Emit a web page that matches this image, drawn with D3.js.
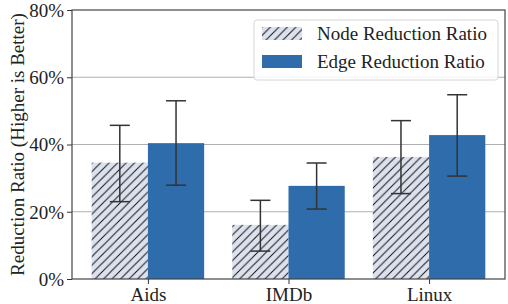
<!DOCTYPE html>
<html><head><meta charset="utf-8">
<script src="https://cdn.jsdelivr.net/npm/d3@7"></script>
<style>
@font-face { font-family: "ChartSerif"; src: local("Liberation Serif"), local("LiberationSerif"), local("LiberationSerif-Regular"); }
body{margin:0;background:#fff}
</style>
</head><body>
<svg id="c" width="508" height="304" font-family="Liberation Serif"></svg>
<script>
const categories = ["Aids", "IMDb", "Linux"];
const seriesNames = ["Node Reduction Ratio", "Edge Reduction Ratio"];
const nodeValues = [34.6, 16.1, 36.3];
const nodeErrLow = [23.0, 8.3, 25.4];
const nodeErrHigh = [45.7, 23.4, 47.1];
const edgeValues = [40.4, 27.7, 42.8];
const edgeErrLow = [27.9, 20.8, 30.6];
const edgeErrHigh = [53.0, 34.5, 54.8];
const yTicks = [0, 20, 40, 60, 80];

const FONT = '"Liberation Serif"';
const svg = d3.select("#c");
const L = 72, R = 505, T = 10, B = 279;
const x = d3.scaleLinear().domain([-0.54, 2.54]).range([L, R]);
const y = d3.scaleLinear().domain([0, 80]).range([B, T]);
const bw = x(0.4) - x(0);

function txt(sel) {
  return sel.attr("font-family", "Liberation Serif").style("font-family", FONT)
    .attr("font-size", 19).style("font-size", "19px").attr("fill", "#222");
}

const defs = svg.append("defs");
const pat = defs.append("pattern").attr("id", "hatch").attr("patternUnits", "userSpaceOnUse")
  .attr("width", 8.5).attr("height", 8.5);
pat.append("rect").attr("width", 8.5).attr("height", 8.5).attr("fill", "#dce1ee");
pat.append("path").attr("d", "M-2,2 L2,-2 M0,8.5 L8.5,0 M6.5,10.5 L10.5,6.5")
  .attr("stroke", "#111").attr("stroke-width", 1);

// grid
svg.append("g").selectAll("line").data(yTicks.slice(1, -1)).join("line")
  .attr("x1", L).attr("x2", R).attr("y1", d => y(d)).attr("y2", d => y(d))
  .attr("stroke", "#b0b0b0").attr("stroke-width", 1);

const series = [
  {vals: nodeValues, lo: nodeErrLow, hi: nodeErrHigh, off: -0.2, fill: "url(#hatch)"},
  {vals: edgeValues, lo: edgeErrLow, hi: edgeErrHigh, off: 0.2, fill: "#2e6cac"}
];
series.forEach(s => {
  const g = svg.append("g");
  g.selectAll("rect").data(s.vals).join("rect")
    .attr("x", (d, i) => x(i + s.off) - bw / 2).attr("width", bw)
    .attr("y", d => y(d)).attr("height", d => B - y(d)).attr("fill", s.fill);
});
series.forEach(s => {
  const g = svg.append("g").attr("stroke", "#333").attr("stroke-width", 1.5);
  s.vals.forEach((d, i) => {
    const cx = x(i + s.off);
    g.append("line").attr("x1", cx).attr("x2", cx).attr("y1", y(s.lo[i])).attr("y2", y(s.hi[i]));
    g.append("line").attr("x1", cx - 10).attr("x2", cx + 10).attr("y1", y(s.lo[i])).attr("y2", y(s.lo[i]));
    g.append("line").attr("x1", cx - 10).attr("x2", cx + 10).attr("y1", y(s.hi[i])).attr("y2", y(s.hi[i]));
  });
});

// axes
const yAxis = d3.axisLeft(y).tickValues(yTicks).tickFormat(d => d + "%").tickSize(5).tickPadding(3);
const ga = svg.append("g").attr("transform", `translate(${L},0)`).call(yAxis)
  .attr("font-family", "Liberation Serif").attr("font-size", 19);
ga.select(".domain").remove();
ga.selectAll("line").attr("stroke", "#333");
txt(ga.selectAll("text")).attr("dy", "0.33em");

const xAxis = d3.axisBottom(x).tickValues([0, 1, 2]).tickFormat(i => categories[i]).tickSize(5).tickPadding(3);
const gx = svg.append("g").attr("transform", `translate(0,${B})`).call(xAxis)
  .attr("font-family", "Liberation Serif").attr("font-size", 19);
gx.select(".domain").remove();
gx.selectAll("line").attr("stroke", "#333");
txt(gx.selectAll("text")).attr("dy", "0.75em");

svg.append("rect").attr("x", L).attr("y", T).attr("width", R - L).attr("height", B - T)
  .attr("fill", "none").attr("stroke", "#444").attr("stroke-width", 1.2);

txt(svg.append("text").attr("transform", `translate(24,${(T + B) / 2}) rotate(-90)`)
  .attr("text-anchor", "middle")).text("Reduction Ratio (Higher is Better)");

// legend
const lg = svg.append("g");
lg.append("rect").attr("x", 254).attr("y", 20).attr("width", 244).attr("height", 60).attr("rx", 3)
  .attr("fill", "rgba(255,255,255,0.85)").attr("stroke", "#d6d6d6");
const legFills = ["url(#hatch)", "#2e6cac"];
seriesNames.forEach((n, i) => {
  lg.append("rect").attr("x", 262).attr("y", 27 + i * 28).attr("width", 40).attr("height", 13).attr("fill", legFills[i]);
  txt(lg.append("text").attr("x", 317).attr("y", 40 + i * 28)).text(n);
});
</script>
</body></html>
